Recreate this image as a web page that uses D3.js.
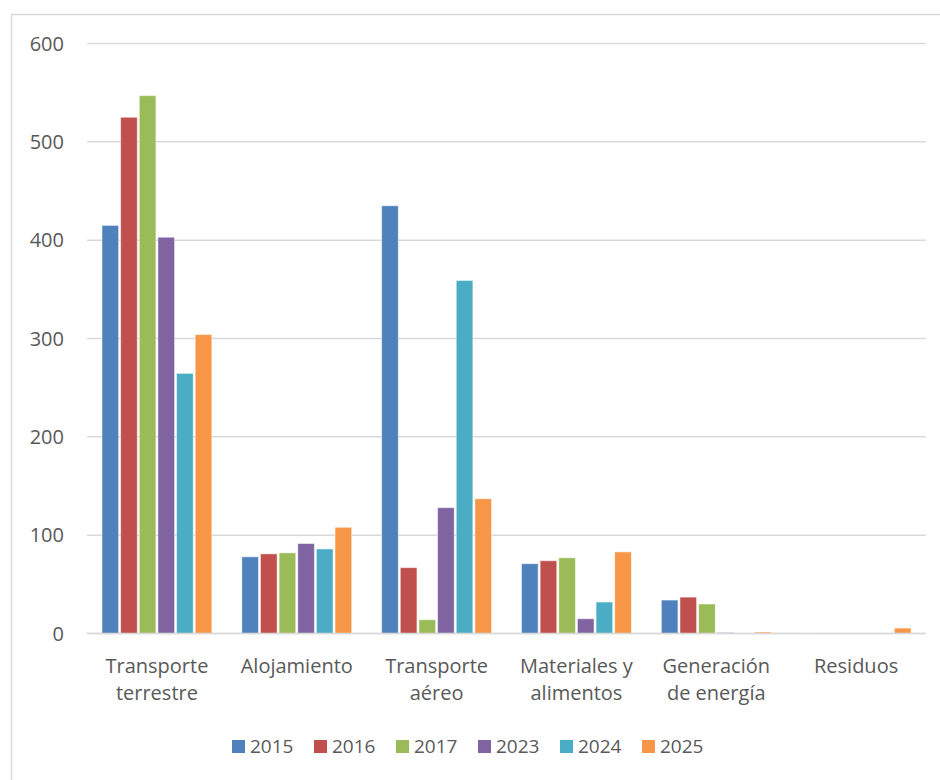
<!DOCTYPE html>
<html>
<head>
<meta charset="utf-8">
<script src="https://cdn.jsdelivr.net/npm/d3@7"></script>
<style>
  body { margin: 0; background: #fff; }
  svg { display: block; font-family: "Open Sans", "Noto Sans", sans-serif; }
</style>
</head>
<body>
<svg id="chart" width="940" height="780"></svg>
<script>
// categories and series
var categories = [
    ["Transporte", "terrestre"],
    ["Alojamiento"],
    ["Transporte", "aéreo"],
    ["Materiales y", "alimentos"],
    ["Generación", "de energía"],
    ["Residuos"]
];
var seriesNames = ["2015", "2016", "2017", "2023", "2024", "2025"];
var v2015 = [415, 78, 435, 71, 34, 0.5];
var v2016 = [525, 81, 67, 74, 37, 0.3];
var v2017 = [547, 82, 14, 77, 30, 0.3];
var v2023 = [403, 91.5, 128, 15, 1, 0.3];
var v2024 = [264.5, 86, 359, 32, 0.5, 0.3];
var v2025 = [304, 108, 137, 83, 1.5, 5.5];
var yTicks = [0, 100, 200, 300, 400, 500, 600];

var seriesValues = [v2015, v2016, v2017, v2023, v2024, v2025];
var colors = ["#4F81BD", "#C0504D", "#9BBB59", "#8064A2", "#4BACC6", "#F79646"];

var svg = d3.select("#chart");

// outer chart border (runs past right/bottom edge like the reference)
svg.append("rect")
    .attr("x", 11.5).attr("y", 14.5)
    .attr("width", 960).attr("height", 800)
    .attr("fill", "none")
    .attr("stroke", "#d9d9d9")
    .attr("stroke-width", 1.5);

var plotLeft = 87, plotRight = 926, plotTop = 43.5, plotBottom = 633.5;

var y = d3.scaleLinear().domain([0, 600]).range([plotBottom, plotTop]);

var x0 = d3.scaleBand()
    .domain(d3.range(categories.length))
    .range([plotLeft, plotRight])
    .paddingInner(0.2)
    .paddingOuter(0.1);

var x1 = d3.scaleBand()
    .domain(d3.range(seriesNames.length))
    .range([0, x0.bandwidth()]);

// gridlines
svg.append("g")
    .selectAll("line")
    .data(yTicks)
    .enter()
    .append("line")
    .attr("x1", plotLeft).attr("x2", plotRight)
    .attr("y1", function (d) { return y(d); })
    .attr("y2", function (d) { return y(d); })
    .attr("stroke", "#d9d9d9")
    .attr("stroke-width", 1.5);

// y tick labels
svg.append("g")
    .selectAll("text")
    .data(yTicks)
    .enter()
    .append("text")
    .attr("x", 64)
    .attr("y", function (d) { return y(d); })
    .attr("dy", "0.35em")
    .attr("text-anchor", "end")
    .attr("fill", "#595959")
    .style("font-size", "20px")
    .text(function (d) { return d; });

// bars
var groups = svg.append("g")
    .selectAll("g")
    .data(categories)
    .enter()
    .append("g")
    .attr("transform", function (d, i) { return "translate(" + x0(i) + ",0)"; });

groups.selectAll("rect")
    .data(function (d, i) {
        return seriesValues.map(function (s, j) { return { s: j, v: s[i] }; });
    })
    .enter()
    .append("rect")
    .attr("x", function (d) { return x1(d.s) + 1; })
    .attr("width", x1.bandwidth() - 2)
    .attr("y", function (d) { return y(d.v); })
    .attr("height", function (d) { return plotBottom - y(d.v); })
    .attr("fill", function (d) { return colors[d.s]; })
    .attr("stroke", "#fff")
    .attr("stroke-opacity", 0.5)
    .attr("stroke-width", 1);

// baseline
svg.append("line")
    .attr("x1", plotLeft).attr("x2", plotRight)
    .attr("y1", plotBottom).attr("y2", plotBottom)
    .attr("stroke", "#d9d9d9")
    .attr("stroke-width", 1.5);

// category labels
var catLabels = svg.append("g")
    .selectAll("text")
    .data(categories)
    .enter()
    .append("text")
    .attr("text-anchor", "middle")
    .attr("fill", "#595959")
    .style("font-size", "20px")
    .attr("transform", function (d, i) {
        return "translate(" + (x0(i) + x0.bandwidth() / 2) + ",673)";
    });

catLabels.selectAll("tspan")
    .data(function (d) { return d; })
    .enter()
    .append("tspan")
    .attr("x", 0)
    .attr("y", function (d, i) { return i * 27; })
    .text(function (d) { return d; });

// legend
var legend = svg.append("g")
    .selectAll("g")
    .data(seriesNames)
    .enter()
    .append("g")
    .attr("transform", function (d, i) { return "translate(" + (232 + i * 82) + ",740)"; });

legend.append("rect")
    .attr("width", 13).attr("height", 13)
    .attr("fill", function (d, i) { return colors[i]; });

legend.append("text")
    .attr("x", 18)
    .attr("y", 6.5)
    .attr("dy", "0.35em")
    .attr("fill", "#595959")
    .style("font-size", "19px")
    .text(function (d) { return d; });
</script>
</body>
</html>
